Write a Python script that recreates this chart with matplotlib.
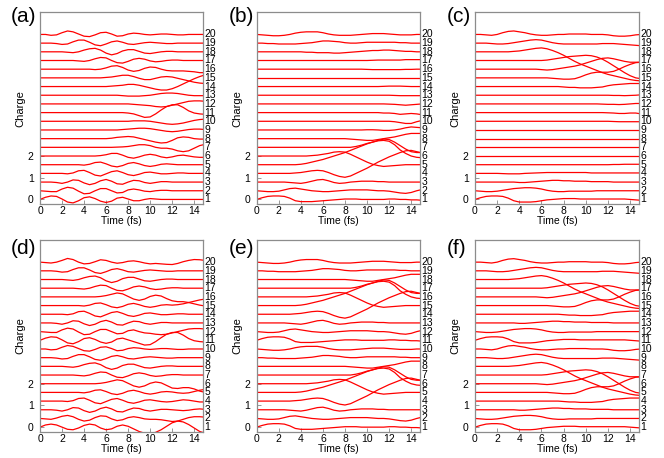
import matplotlib
matplotlib.use("Agg")
import matplotlib.pyplot as plt

plt.rcParams["font.family"] = ["Liberation Sans", "DejaVu Sans"]

time_fs = [0.0, 0.5, 1.0, 1.5, 2.0, 2.5, 3.0, 3.5, 4.0, 4.5, 5.0, 5.5, 6.0, 6.5, 7.0, 7.5,
           8.0, 8.5, 9.0, 9.5, 10.0, 10.5, 11.0, 11.5, 12.0, 12.5, 13.0, 13.5, 14.0, 14.5, 15.0]

# change of charge on sites 1..20 (bottom row first), in units of 0.01 e
charge_a = [
    [0, 10, 16, 14, 2, -12, -16, -6, 8, 12, 4, -8, -14, -8, 6, 10, 2, -6, -6, 0, 4, 2, 0, 0, 0, 0, 0, 0, 0, 0, 0],
    [0, -2, -4, -4, 8, 16, 12, -2, -14, -12, 0, 10, 10, 0, -10, -8, 4, 8, 4, -2, -4, 0, 2, 2, 0, 0, 0, 0, 0, 0, 0],
    [0, 0, 0, -2, -6, 0, 10, 8, -4, -12, -6, 6, 12, 4, -8, -10, 0, 8, 6, -2, -6, -2, 2, 2, 0, 0, 0, 0, 0, 0, 0],
    [0, 0, 0, 0, 0, -2, 2, 12, 14, 4, -8, -12, -2, 8, 12, 4, -6, -10, -4, 4, 6, 2, -2, -2, 0, 2, 2, 0, 0, 0, 0],
    [0, 0, 0, 0, 0, 0, 0, 0, -2, 2, 10, 12, 4, -6, -10, -4, 6, 10, 4, -4, -8, -4, 2, 4, 2, 0, 0, 0, 0, 0, 0],
    [0, 0, 0, 0, 0, 0, 0, 0, 0, 0, 0, 2, 6, 12, 12, 4, -6, -10, -4, 4, 8, 4, -4, -8, -4, 2, 4, 0, -4, -6, -6],
    [0, 0, 0, 0, 0, 0, 0, 0, 0, 0, 0, 0, 0, 0, 1, 2, 4, 8, 12, 12, 8, 0, -4, -4, -8, -16, -20, -16, -4, 8, 14],
    [0, 0, 0, 0, 0, 0, 0, 0, 0, 0, 0, 0, 0, 2, 6, 8, 10, 8, 2, -4, -10, -16, -20, -18, -8, 4, 8, 6, 0, -2, -2],
    [0, 0, 0, 0, 0, 0, 0, 0, 0, 0, 0, 0, 0, 0, 0, 2, 4, 6, 8, 8, 6, 2, -2, -6, -8, -6, -2, 2, 4, 4, 2],
    [0, 0, 0, 0, 0, 0, 0, 0, 0, 0, 0, 0, 0, 0, 0, 0, 0, 2, 2, 2, 0, -4, -8, -12, -14, -12, -8, -2, 4, 8, 10],
    [0, 0, 0, 0, 0, 0, 0, 0, 0, 0, 0, 0, 0, 0, 0, 0, -2, -6, -14, -22, -20, -6, 12, 28, 36, 36, 24, 8, -2, -6, -8],
    [0, 0, 0, 0, 0, 0, 0, 0, 0, 0, 0, 0, 0, 0, 0, 0, 0, -2, -4, -6, -8, -12, -14, -12, -6, 0, 6, 12, 14, 14, 12],
    [0, 0, 0, 0, 0, 0, 0, 0, 0, 0, 0, 0, 0, 0, 0, -2, -4, -4, -4, -2, 0, 4, 8, 10, 10, 8, 4, 0, -2, -2, -2],
    [0, 0, 0, 0, 0, 0, 0, 0, 0, 0, 0, 0, 0, 2, 4, 6, 10, 10, 6, 0, -6, -12, -16, -16, -10, 0, 12, 24, 36, 46, 54],
    [0, 0, 0, 0, 0, 0, 0, 0, 0, 0, 0, 0, 2, 4, 8, 12, 12, 6, -2, -8, -8, -2, 4, 6, 4, -2, -8, -14, -20, -24, -26],
    [0, 0, 0, 0, 0, 0, 0, 0, 0, 0, -2, 0, 6, 14, 16, 8, -4, -10, -6, 4, 10, 8, 0, -6, -8, -8, -8, -10, -12, -16, -16],
    [0, 0, 0, 0, 0, 0, 0, -2, -4, 0, 8, 14, 12, 0, -10, -12, -4, 6, 10, 6, -2, -6, -4, 0, 2, 2, 0, 0, 0, 0, 0],
    [0, 0, 0, 0, 0, -2, -4, 0, 8, 14, 16, 8, -6, -14, -8, 4, 10, 10, 2, -6, -8, -4, 0, 2, 2, 0, 0, 0, 0, 0, 0],
    [0, 0, 0, -2, -6, -4, 6, 14, 14, 4, -8, -12, -4, 6, 10, 4, -4, -6, -2, 2, 4, 2, 0, -2, -2, 0, 0, 0, 0, 0, 0],
    [0, 0, -4, -2, 8, 16, 12, 2, -8, -10, -2, 8, 10, 2, -8, -6, 2, 6, 4, 0, -2, 0, 2, 2, 0, -2, -2, 0, 0, 0, 0],
]

charge_b = [
    [0, 8, 14, 16, 16, 14, 6, -6, -10, -10, -10, -8, -6, -4, -2, 0, 2, 2, 2, 0, 0, 0, 0, 0, 2, 2, 0, 0, -2, -2, -4],
    [0, -2, -4, -4, -2, 4, 10, 12, 8, 4, 0, -2, -4, -4, -2, 0, 2, 4, 4, 4, 4, 2, 0, 0, -2, -6, -10, -12, -8, 0, 6],
    [0, 0, 0, 0, 0, 0, -2, -4, -6, -2, 4, 10, 12, 6, -2, -6, -4, 0, 2, 4, 4, 4, 2, 2, 0, 0, 0, 0, 0, 0, 0],
    [0, 0, 0, 0, 0, 0, 0, 2, 4, 8, 12, 14, 12, 4, -6, -14, -18, -12, 0, 12, 24, 38, 52, 64, 76, 86, 96, 104, 106, 100, 94],
    [0, 0, 0, 0, 0, 0, 0, 0, 2, 6, 12, 18, 24, 32, 40, 48, 56, 66, 76, 86, 96, 104, 112, 118, 116, 104, 88, 72, 60, 56, 56],
    [0, 0, 0, 0, 0, 0, 0, 0, 0, 0, 2, 4, 8, 12, 18, 20, 18, 8, -4, -16, -28, -38, -44, -48, -46, -44, -42, -40, -40, -40, -40],
    [0, 0, 0, 0, 0, 0, 0, 0, 0, 0, 0, 0, 0, 0, 0, 0, 0, 0, 4, 10, 18, 24, 30, 32, 28, 12, -12, -28, -40, -46, -48],
    [0, 0, 0, 0, 0, 0, 0, 0, 0, 0, 0, 0, 0, 0, 0, 0, 0, -2, -4, -6, -8, -8, -4, 0, 4, 8, 14, 20, 24, 24, 24],
    [0, 0, 0, 0, 0, 0, 0, 0, 0, 0, 0, 0, 0, 0, 0, 0, 0, 0, 0, 0, 1, 1, 0, -2, -2, 0, 4, 10, 14, 12, 10],
    [0, 0, 0, 0, 0, 0, 0, 0, 0, 0, 0, 0, 0, 0, 0, 0, 0, 0, 0, 0, 0, 0, 0, 0, 0, -2, -6, -10, -10, -2, 4],
    [0, 0, 0, 0, 0, 0, 0, 0, 0, 0, 0, 0, 0, 0, 0, 0, 0, 0, 0, 0, 0, 0, 0, -2, -2, -4, -8, -6, -4, -6, -10],
    [0, 0, 0, 0, 0, 0, 0, 0, 0, 0, 0, 0, 0, 0, 0, 0, 0, 0, 0, 0, 0, 0, 0, 0, -1, -2, -4, -6, -4, -2, 0],
    [0, 0, 0, 0, 0, 0, 0, 0, 0, 0, 0, 0, 0, 0, 0, 0, 0, 0, 0, 0, 0, 0, 0, 0, 0, -1, -2, -2, -2, -2, -2],
    [0, 0, 0, 0, 0, 0, 0, 0, 0, 0, 0, 0, 0, 0, 0, 0, 0, 0, 0, 0, 0, 0, 0, 1, 2, 2, 2, 1, 0, 0, 0],
    [0, 0, 0, 0, 0, 0, 0, 0, 0, 0, 0, 0, 0, 0, 0, 0, 0, 0, 0, 0, 0, 0, 0, 0, 0, 0, 0, 0, 0, 0, 0],
    [0, 0, 0, 0, 0, 0, 0, 0, 0, 0, 0, 0, 0, 0, 0, 0, 0, 0, 0, 0, -1, -2, -2, -2, -2, -2, -2, -1, -1, 0, 0],
    [0, 0, 0, 0, 0, 0, 0, 0, 0, 0, 0, 0, 0, 0, 0, 0, 0, 0, 0, 0, 0, 1, 2, 2, 2, 2, 2, 4, 4, 4, 4],
    [0, 0, 0, 0, 0, 0, 0, 0, 0, -2, -2, -4, -4, -4, -6, -6, -4, -2, 0, 2, 4, 6, 6, 8, 8, 6, 4, 2, 2, 0, 0],
    [0, 0, -2, -2, -4, -4, -4, -4, -2, 0, 2, 6, 10, 10, 8, 6, 2, 0, 0, 2, 4, 4, 4, 4, 4, 4, 2, 2, 0, 0, 0],
    [0, -2, -4, -6, -6, -4, 0, 6, 10, 12, 12, 12, 8, 2, -2, -4, -4, -4, -2, 0, 2, 4, 4, 4, 2, 0, -2, -2, -2, 0, 0],
]

charge_c = [
    [0, 8, 14, 16, 16, 14, 6, -6, -12, -12, -12, -10, -6, -2, 0, 2, 4, 4, 4, 2, 2, 2, 2, 2, 2, 2, 2, 2, 0, -2, -4],
    [0, -2, -4, -4, -2, 2, 6, 10, 12, 14, 14, 12, 8, 2, -2, -4, -4, -2, -2, -2, -2, -2, 0, 0, 0, 0, 0, 0, 0, 0, 0],
    [0, 0, 0, 0, 0, 0, 0, 0, -2, -2, 0, 2, 4, 6, 8, 8, 6, 6, 4, 4, 4, 2, 2, 2, 2, 0, 0, 0, 0, 0, 0],
    [0, 0, 0, 0, 0, -1, -2, -2, -2, 0, 1, 2, 3, 4, 4, 4, 4, 4, 4, 4, 4, 2, 2, 2, 2, 2, 2, 2, 2, 2, 2],
    [0, 0, 0, 0, 0, 0, 0, 0, 0, 0, 0, 0, 0, 0, 0, 0, 0, 0, 0, 0, 0, 0, 0, 0, 0, 1, 1, 2, 2, 2, 2],
    [0, 0, 0, 0, 0, 0, 0, 0, 0, 0, 0, 0, 0, 0, 0, 0, 0, 0, 0, 0, 0, 0, 0, 0, 0, 0, 0, 0, 0, 0, 0],
    [0, 0, 0, 0, 0, 0, 0, 0, 0, 0, 0, 0, 0, 0, 0, 0, 0, 0, 0, 0, 0, 0, 0, 0, 0, 0, 0, 0, 0, 0, 0],
    [0, 0, 0, 0, 0, 0, 0, 0, 0, 0, 0, 0, 0, 0, 0, 0, 0, 0, 0, 0, 0, 0, 0, 0, 0, 0, 0, 0, 0, 0, 0],
    [0, 0, 0, 0, 0, 0, 0, 0, 0, 0, 0, 0, 0, 0, 0, 0, 0, 0, 0, 0, 0, 0, 0, 0, 0, 0, 0, 0, 0, 0, 0],
    [0, 0, 0, 0, 0, 0, 0, 0, 0, 0, 0, 0, 0, 0, 0, 0, 0, 0, 0, 0, 0, 0, 0, 0, 0, -1, -2, -2, -2, -2, -2],
    [0, 0, 0, 0, 0, 0, 0, 0, 0, 0, 0, 0, 0, 0, 0, 0, 0, 0, 0, 0, 0, 0, 0, 0, -1, -2, -4, -4, -2, -2, -6],
    [0, 0, 0, 0, 0, 0, 0, 0, 0, 0, 0, 0, 0, 0, 0, 0, 0, 0, 0, 0, 0, 0, 0, -1, -2, -2, -3, -2, 0, 2, 2],
    [0, 0, 0, 0, 0, 0, 0, 0, 0, 0, 0, 0, 0, 0, 0, 0, 0, 0, 0, 0, 0, 0, 0, 0, 0, -1, -1, -2, -1, 0, 2],
    [0, 0, 0, 0, 0, 0, 0, 0, 0, 0, 0, 0, 0, 0, 0, 0, -2, -4, -4, -6, -6, -6, -4, -2, 4, 8, 10, 12, 14, 14, 14],
    [0, 0, 0, 0, 0, 0, 0, 0, 0, 0, 0, 0, 0, 0, -2, -4, -6, -6, -4, 4, 14, 22, 26, 26, 26, 30, 40, 52, 62, 70, 72],
    [0, 0, 0, 0, 0, 0, 0, 0, 0, 0, 0, 0, -2, -4, -2, 2, 6, 10, 14, 20, 28, 36, 44, 50, 52, 48, 42, 36, 32, 32, 32],
    [0, 0, 0, 0, 0, 0, 0, 0, 0, 0, 0, 0, 0, 2, 6, 10, 14, 18, 20, 22, 24, 22, 16, 6, -8, -24, -40, -56, -70, -80, -84],
    [0, 0, 0, 0, 0, 0, 0, 2, 4, 8, 12, 16, 18, 14, 6, -4, -16, -30, -44, -56, -66, -76, -86, -96, -104, -110, -116, -122, -128, -132, -134],
    [0, 0, 0, -2, -4, -4, -2, 2, 6, 10, 14, 16, 14, 8, 2, -2, -4, -4, -4, -4, -4, -4, -4, -2, -2, -2, -4, -6, -8, -10, -12],
    [0, 0, -2, -4, 0, 8, 14, 16, 12, 8, 2, -2, -4, -4, -2, 0, 0, 2, 2, 2, 2, 0, 0, 0, -2, -6, -8, -8, -6, -2, 0],
]

charge_d = [
    [0, 10, 14, 10, 0, -10, -12, -4, 8, 14, 10, -4, -12, -8, 4, 10, 4, -8, -20, -28, -30, -24, -12, 4, 20, 28, 24, 12, -4, -20, -28],
    [0, -2, -4, 2, 10, 14, 8, -4, -12, -8, 4, 12, 10, -2, -10, -6, 4, 8, 4, -2, -4, -4, -6, -10, -14, -12, -4, 4, 8, 8, 6],
    [0, 0, 0, -2, -6, 0, 10, 8, -4, -12, -6, 6, 12, 4, -8, -10, 0, 8, 6, -2, -6, -2, 2, 2, 0, -2, -4, -2, 2, 4, 2],
    [0, 0, 0, 0, 0, -2, 2, 12, 14, 4, -8, -12, -2, 8, 12, 4, -6, -10, -4, 4, 6, 2, -2, -4, -2, 2, 6, 4, 0, -4, -4],
    [0, 0, 0, 0, 0, 0, 0, 0, -2, 2, 10, 12, 4, -6, -10, -4, 6, 10, 4, -4, -8, -4, 2, 4, 2, -2, -4, -2, 4, 10, 14],
    [0, 0, 0, 0, 0, 0, 0, 0, 0, 0, 0, 2, 6, 12, 18, 14, 2, -10, -16, -10, 2, 8, 4, -8, -20, -22, -18, -18, -24, -34, -40],
    [0, 0, 0, 0, 0, 0, 0, -2, -4, 0, 8, 14, 12, 0, -10, -12, -4, 6, 10, 6, -2, -6, -4, 0, 2, 2, 0, 0, 0, 0, 0],
    [0, 0, 0, 0, 0, -2, -4, 0, 8, 14, 16, 8, -6, -14, -8, 4, 10, 10, 2, -6, -8, -4, 0, 2, 2, 0, 0, 0, 0, 0, 0],
    [0, 0, 0, -2, -6, -4, 6, 14, 14, 4, -8, -12, -4, 6, 10, 4, -4, -6, -2, 2, 4, 2, 0, -2, -2, 0, 0, 0, 0, 0, 0],
    [0, 0, -4, -2, 8, 16, 12, 2, -8, -10, -2, 8, 10, 2, -8, -6, 2, 6, 4, 0, -2, 0, 2, 2, 0, -2, -2, 0, 0, 0, 0],
    [0, 10, 16, 14, 2, -12, -16, -6, 8, 12, 4, -8, -14, -8, 6, 10, 2, -6, -14, -22, -20, -6, 12, 28, 36, 36, 24, 8, -2, -6, -8],
    [0, -2, -4, -4, 8, 16, 12, -2, -14, -12, 0, 10, 10, 0, -10, -8, 4, 8, 0, -6, -8, -12, -14, -12, -6, 0, 6, 12, 14, 14, 12],
    [0, 0, 0, -2, -6, 0, 10, 8, -4, -12, -6, 6, 12, 4, -8, -10, 0, 8, 6, -2, -6, -2, 2, 2, 0, 0, 0, 0, 0, 0, 0],
    [0, 0, 0, 0, 0, -2, 2, 12, 14, 4, -8, -12, -2, 8, 12, 4, -6, -10, -4, 4, 6, 2, -2, -2, 0, 2, 2, 0, 0, 0, 0],
    [0, 0, 0, 0, 0, 0, 0, 0, -2, 2, 10, 12, 4, -6, -10, -4, 6, 10, 4, -4, -8, -4, 2, 4, 2, 4, 8, 14, 20, 26, 30],
    [0, 0, 0, 0, 0, 0, 0, 0, 0, 0, 0, 2, 6, 12, 18, 14, 2, -10, -16, -10, 2, 8, 4, -8, -18, -22, -22, -26, -32, -38, -42],
    [0, 0, 0, 0, 0, 0, 0, -2, -4, 0, 8, 14, 12, 0, -10, -12, -4, 6, 10, 6, -2, -6, -4, 0, 2, 2, 0, 0, 0, 0, 0],
    [0, 0, 0, 0, 0, -2, -4, 0, 8, 14, 16, 8, -6, -14, -8, 4, 10, 10, 2, -6, -8, -4, 0, 2, 2, 0, 0, 0, 0, 0, 0],
    [0, 0, 0, -2, -6, -4, 6, 14, 14, 4, -8, -12, -4, 6, 10, 4, -4, -6, -2, 2, 4, 2, 0, -2, -2, 0, 0, 0, 0, 0, 0],
    [0, -2, -4, 0, 8, 17, 12, 0, -8, -6, 2, 11, 8, 0, -5, -2, 4, 6, 2, -4, -8, -6, -8, -10, -11, -6, 2, 8, 12, 11, 8],
]

charge_e = [
    [0, 8, 14, 16, 16, 14, 6, -6, -10, -10, -10, -8, -6, -4, -2, 0, 2, 2, 2, 0, 0, 0, 0, 0, 2, 2, 0, 0, -2, -2, -4],
    [0, -2, -4, -4, -2, 4, 10, 12, 8, 4, 0, -2, -4, -4, -2, 0, 2, 4, 4, 4, 4, 2, 0, 0, -2, -6, -10, -12, -8, 0, 6],
    [0, 0, 0, 0, 0, 0, -2, -4, -6, -2, 4, 10, 12, 6, -2, -6, -4, 0, 2, 4, 4, 4, 2, 2, 0, 0, 0, 0, 0, 0, 0],
    [0, 0, 0, 0, 0, 0, 0, 2, 4, 8, 12, 14, 12, 4, -6, -14, -18, -12, 0, 12, 24, 38, 52, 64, 76, 86, 96, 104, 106, 100, 94],
    [0, 0, 0, 0, 0, 0, 0, 0, 2, 6, 12, 18, 24, 32, 40, 48, 56, 66, 76, 86, 96, 104, 112, 118, 116, 104, 88, 72, 60, 56, 56],
    [0, 0, 0, 0, 0, 0, 0, 0, 0, 0, 2, 4, 8, 12, 18, 20, 18, 8, -4, -16, -28, -38, -44, -48, -46, -44, -42, -40, -40, -40, -40],
    [0, 0, 0, 0, 0, 0, 0, 0, 0, 0, 0, 0, 0, 0, 0, 0, 0, 0, 4, 10, 18, 24, 30, 32, 28, 12, -12, -28, -40, -46, -48],
    [0, 0, 0, 0, 0, 0, 0, 0, 0, 0, 0, 0, 0, 0, 0, 0, 0, -2, -4, -6, -8, -8, -4, 0, 4, 8, 14, 20, 24, 24, 24],
    [0, 0, -2, -2, -4, -4, -4, -4, -2, 0, 2, 6, 10, 10, 8, 6, 2, 0, 0, 2, 4, 4, 4, 4, 4, 4, 2, 2, 0, 0, 0],
    [0, -2, -4, -6, -6, -4, 0, 6, 10, 12, 12, 12, 8, 2, -2, -4, -4, -4, -2, 0, 2, 4, 4, 4, 2, 0, -2, -2, -2, 0, 0],
    [0, 8, 14, 16, 16, 14, 6, -6, -10, -10, -10, -8, -6, -4, -2, 0, 2, 2, 2, 0, 0, 0, 0, 0, 2, 2, 0, 0, -2, -2, -4],
    [0, -2, -4, -4, -2, 4, 10, 12, 8, 4, 0, -2, -4, -4, -2, 0, 2, 4, 4, 4, 4, 2, 0, 0, -2, -6, -10, -12, -8, 0, 6],
    [0, 0, 0, 0, 0, 0, -2, -4, -6, -2, 4, 10, 12, 6, -2, -6, -4, 0, 2, 4, 4, 4, 2, 2, 0, 0, 0, 0, 0, 0, 0],
    [0, 0, 0, 0, 0, 0, 0, 2, 4, 8, 12, 14, 12, 4, -6, -14, -18, -12, 0, 12, 24, 38, 52, 64, 76, 86, 96, 104, 106, 100, 94],
    [0, 0, 0, 0, 0, 0, 0, 0, 2, 6, 12, 18, 24, 32, 40, 48, 56, 66, 76, 86, 96, 104, 112, 118, 116, 104, 88, 72, 60, 56, 56],
    [0, 0, 0, 0, 0, 0, 0, 0, 0, 0, 2, 4, 8, 12, 18, 20, 18, 8, -4, -16, -28, -38, -44, -48, -46, -44, -42, -40, -40, -40, -40],
    [0, 0, 0, 0, 0, 0, 0, 0, 0, 0, 0, 0, 0, 0, 0, 0, 0, 0, 4, 10, 18, 24, 30, 32, 28, 12, -12, -28, -40, -46, -48],
    [0, 0, 0, 0, 0, 0, 0, 0, 0, 0, 0, 0, 0, 0, 0, 0, 0, -2, -4, -6, -8, -8, -4, 0, 4, 8, 14, 20, 24, 24, 24],
    [0, 0, -2, -2, -4, -4, -4, -4, -2, 0, 2, 6, 10, 10, 8, 6, 2, 0, 0, 2, 4, 4, 4, 4, 4, 4, 2, 2, 0, 0, 0],
    [0, -2, -4, -6, -6, -4, 0, 6, 10, 12, 12, 12, 8, 2, -2, -4, -4, -4, -2, 0, 2, 4, 4, 4, 2, 0, -2, -2, -2, 0, 0],
]

charge_f = [
    [0, 8, 14, 16, 16, 14, 6, -6, -12, -12, -12, -10, -6, -2, 0, 2, 4, 4, 4, 2, 2, 2, 2, 2, 2, 2, 2, 2, 0, -2, -4],
    [0, -2, -4, -4, -2, 2, 6, 10, 12, 14, 14, 12, 8, 2, -2, -4, -4, -2, -2, -2, -2, -2, 0, 0, 0, 0, 0, 0, 0, 0, 0],
    [0, 0, 0, 0, 0, 0, 0, 0, -2, -2, 0, 2, 4, 6, 8, 8, 6, 6, 4, 4, 4, 2, 2, 2, 2, 0, 0, 0, 0, 0, 0],
    [0, 0, 0, 0, 0, 0, 0, 0, 0, 0, 0, 0, 0, 0, 0, 0, -2, -4, -4, -6, -6, -6, -4, -2, 4, 8, 10, 12, 14, 14, 14],
    [0, 0, 0, 0, 0, 0, 0, 0, 0, 0, 0, 0, 0, 0, -2, -4, -6, -6, -4, 4, 14, 22, 26, 26, 26, 30, 40, 52, 62, 70, 72],
    [0, 0, 0, 0, 0, 0, 0, 0, 0, 0, 0, 0, -2, -4, -2, 2, 6, 10, 14, 20, 28, 36, 44, 50, 52, 48, 42, 36, 32, 32, 32],
    [0, 0, 0, 0, 0, 0, 0, 0, 0, 0, 0, 0, 0, 2, 6, 10, 14, 18, 20, 22, 24, 22, 16, 6, -8, -24, -40, -56, -70, -80, -84],
    [0, 0, 0, 0, 0, 0, 0, 2, 4, 8, 12, 16, 18, 14, 6, -4, -16, -30, -44, -56, -66, -76, -86, -96, -104, -110, -116, -122, -128, -132, -134],
    [0, 0, 0, -2, -4, -4, -2, 2, 6, 10, 14, 16, 14, 8, 2, -2, -4, -4, -4, -4, -4, -4, -4, -2, -2, -2, -4, -6, -8, -10, -12],
    [0, 0, -2, -4, 0, 8, 14, 16, 12, 8, 2, -2, -4, -4, -2, 0, 0, 2, 2, 2, 2, 0, 0, 0, -2, -6, -8, -8, -6, -2, 0],
    [0, 8, 14, 16, 16, 14, 6, -6, -12, -12, -12, -10, -6, -2, 0, 2, 4, 4, 4, 2, 2, 2, 2, 2, 2, 2, 2, 2, 0, -2, -4],
    [0, -2, -4, -4, -2, 2, 6, 10, 12, 14, 14, 12, 8, 2, -2, -4, -4, -2, -2, -2, -2, -2, 0, 0, 0, 0, 0, 0, 0, 0, 0],
    [0, 0, 0, 0, 0, 0, 0, 0, -2, -2, 0, 2, 4, 6, 8, 8, 6, 6, 4, 4, 4, 2, 2, 2, 2, 0, 0, 0, 0, 0, 0],
    [0, 0, 0, 0, 0, 0, 0, 0, 0, 0, 0, 0, 0, 0, 0, 0, -2, -4, -4, -6, -6, -6, -4, -2, 4, 8, 10, 12, 14, 14, 14],
    [0, 0, 0, 0, 0, 0, 0, 0, 0, 0, 0, 0, 0, 0, -2, -4, -6, -6, -4, 4, 14, 22, 26, 26, 26, 30, 40, 52, 62, 70, 72],
    [0, 0, 0, 0, 0, 0, 0, 0, 0, 0, 0, 0, -2, -4, -2, 2, 6, 10, 14, 20, 28, 36, 44, 50, 52, 48, 42, 36, 32, 32, 32],
    [0, 0, 0, 0, 0, 0, 0, 0, 0, 0, 0, 0, 0, 2, 6, 10, 14, 18, 20, 22, 24, 22, 16, 6, -8, -24, -40, -56, -70, -80, -84],
    [0, 0, 0, 0, 0, 0, 0, 2, 4, 8, 12, 16, 18, 14, 6, -4, -16, -30, -44, -56, -66, -76, -86, -96, -104, -110, -116, -122, -128, -132, -134],
    [0, 0, 0, -2, -4, -4, -2, 2, 6, 10, 14, 16, 14, 8, 2, -2, -4, -4, -4, -4, -4, -4, -4, -2, -2, -2, -4, -6, -8, -10, -12],
    [0, 0, -2, -4, 0, 8, 14, 16, 12, 8, 2, -2, -4, -4, -2, 0, 0, 2, 2, 2, 2, 0, 0, 0, -2, -6, -8, -8, -6, -2, 0],
]

panel_letters = ["(a)", "(b)", "(c)", "(d)", "(e)", "(f)"]
panel_data = [charge_a, charge_b, charge_c, charge_d, charge_e, charge_f]
site_labels = ["1", "2", "3", "4", "5", "6", "7", "8", "9", "10",
               "11", "12", "13", "14", "15", "16", "17", "18", "19", "20"]
time_ticks = [0, 2, 4, 6, 8, 10, 12, 14]
charge_ticks = [0, 1, 2]

site_gap = 0.4  # vertical shift between neighbouring sites

# layout in pixels of the 664 x 458 picture
W, H = 664, 458
col_left = [40, 256.7, 475]
col_right = [203, 420, 639]
row_top = [12.3, 240]
row_bottom = [204, 431.7]
letter_x = [11, 229, 447]
letter_y = [16, 249]

fig = plt.figure(figsize=(W / 100, H / 100), dpi=100)

for i, rows in enumerate(panel_data):
    r, c = divmod(i, 3)
    l, rt, t, b = col_left[c], col_right[c], row_top[r], row_bottom[r]
    ax = fig.add_axes([l / W, 1 - b / H, (rt - l) / W, (b - t) / H])

    for k, row in enumerate(rows):
        ax.plot(time_fs, [k * site_gap + v / 100 for v in row], color="#ff0000", lw=0.9)

    ax.set_xlim(0, 14.8)
    ax.set_ylim(-0.21, 8.62)
    ax.set_xticks(time_ticks)
    ax.set_yticks(charge_ticks)
    ax.tick_params(direction="in", length=3, width=0.6, color="#888888", labelsize=7.5)
    ax.tick_params(axis="x", pad=1.5)
    ax.tick_params(axis="y", pad=4.5)
    for s in ax.spines.values():
        s.set_color("#8c8c8c")
        s.set_linewidth(0.9)

    ax.set_xlabel("Time (fs)", fontsize=7.5)
    ax.xaxis.set_label_coords(0.5, -0.062)
    ax.set_ylabel("Charge", fontsize=8)
    ax.yaxis.set_label_coords(-0.09, 0.5)

    for k, lab in enumerate(site_labels):
        ax.text(1.008, k * site_gap, lab, transform=ax.get_yaxis_transform(),
                ha="left", va="center", fontsize=7.5)

    fig.text(letter_x[c] / W, 1 - letter_y[r] / H, panel_letters[i],
             fontsize=15, ha="left", va="center")

fig.savefig("out.png", dpi=100)
